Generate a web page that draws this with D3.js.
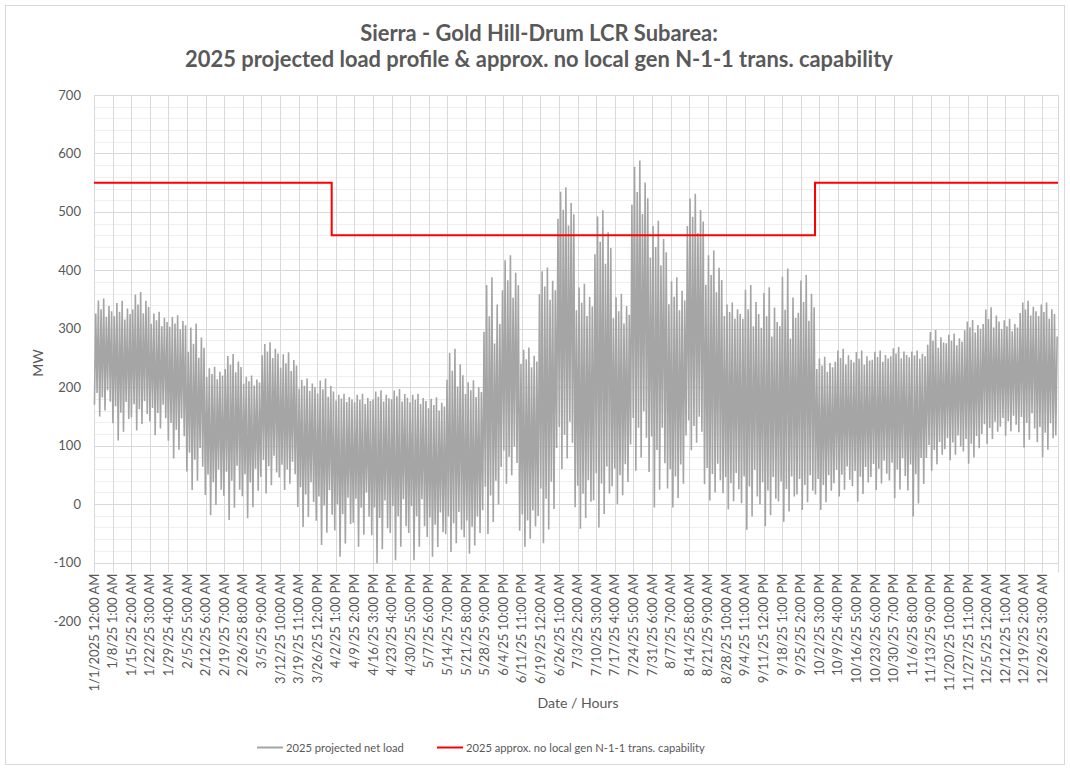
<!DOCTYPE html>
<html lang="en">
<head>
<meta charset="UTF-8">
<title>Sierra - Gold Hill-Drum LCR Subarea</title>
<script src="https://d3js.org/d3.v7.min.js"></script>
<style>
  body { margin: 0; background: #fff; }
  svg { display: block; font-family: Lato, "Open Sans", sans-serif; }
</style>
</head>
<body>
<svg width="1070" height="770"></svg>
<script>
// category labels, one every 169 hourly points
const tickLabels = [
  "1/1/2025 12:00 AM", "1/8/25 1:00 AM", "1/15/25 2:00 AM", "1/22/25 3:00 AM", "1/29/25 4:00 AM",
  "2/5/25 5:00 AM", "2/12/25 6:00 AM", "2/19/25 7:00 AM", "2/26/25 8:00 AM", "3/5/25 9:00 AM",
  "3/12/25 10:00 AM", "3/19/25 11:00 AM", "3/26/25 12:00 PM", "4/2/25 1:00 PM", "4/9/25 2:00 PM",
  "4/16/25 3:00 PM", "4/23/25 4:00 PM", "4/30/25 5:00 PM", "5/7/25 6:00 PM", "5/14/25 7:00 PM",
  "5/21/25 8:00 PM", "5/28/25 9:00 PM", "6/4/25 10:00 PM", "6/11/25 11:00 PM", "6/19/25 12:00 AM",
  "6/26/25 1:00 AM", "7/3/25 2:00 AM", "7/10/25 3:00 AM", "7/17/25 4:00 AM", "7/24/25 5:00 AM",
  "7/31/25 6:00 AM", "8/7/25 7:00 AM", "8/14/25 8:00 AM", "8/21/25 9:00 AM", "8/28/25 10:00 AM",
  "9/4/25 11:00 AM", "9/11/25 12:00 PM", "9/18/25 1:00 PM", "9/25/25 2:00 PM", "10/2/25 3:00 PM",
  "10/9/25 4:00 PM", "10/16/25 5:00 PM", "10/23/25 6:00 PM", "10/30/25 7:00 PM", "11/6/25 8:00 PM",
  "11/13/25 9:00 PM", "11/20/25 10:00 PM", "11/27/25 11:00 PM", "12/5/25 12:00 AM", "12/12/25 1:00 AM",
  "12/19/25 2:00 AM", "12/26/25 3:00 AM"
];
const tickStep = 169;
const totalHours = 8760;

// net load, read per week off the picture (MW)
// peak / trough = extreme spikes of the week, top / bottom = edges of the dense band
const weekPeak = [352, 348, 363, 329, 323, 309, 235, 257, 220, 277, 260, 215, 215, 189, 189, 195, 197, 189,
  183, 266, 212, 388, 426, 268, 405, 542, 377, 503, 360, 588, 485, 388, 531, 434, 345, 375, 371, 403,
  392, 252, 266, 263, 263, 269, 263, 298, 292, 315, 337, 317, 348, 345, 303];
const weekTop = [315, 310, 320, 300, 295, 240, 210, 220, 200, 245, 222, 190, 178, 172, 168, 172, 172, 168,
  156, 190, 178, 255, 340, 228, 340, 465, 312, 395, 300, 480, 395, 322, 452, 350, 312, 292, 272, 262,
  300, 222, 234, 234, 240, 246, 246, 262, 268, 290, 296, 292, 318, 312, 280];
const weekBottom = [200, 182, 182, 176, 154, 104, 68, 76, 70, 90, 78, 46, 34, 22, 30, 18, 20, 20,
  -6, -6, -14, 50, 106, -4, 50, 150, 50, 76, 76, 170, 146, 76, 156, 76, 60, 70, 56, 56,
  56, 56, 70, 70, 80, 86, 90, 112, 122, 122, 145, 155, 162, 145, 155];
const weekTrough = [150, 109, 126, 118, 78, 24, -19, -27, -24, 18, 24, -39, -70, -90, -73, -101, -96, -96,
  -90, -82, -85, -51, 35, -73, -67, 60, -42, -40, 0, 57, -6, -6, 92, 6, -9, -44, -38, -30,
  -10, -10, 13, 4, 24, 10, -21, 57, 75, 69, 103, 117, 97, 80, 92];
// how far each weekday reaches toward the week's spikes
const peakShape = [0.3, 0.9, 0.5, 1.0, 0.15, 0.65, 0.4];
const troughShape = [0.6, 0.2, 1.0, 0.35, 0.8, 0.1, 0.5];

// transmission capability (step)
const capHours = [0, 2160, 6552, 8760];
const capValues = [550, 460, 550, 550];

const svg = d3.select("svg");
const plot = {left: 94, right: 1058, top: 95, bottom: 621};

const x = d3.scaleLinear().domain([0, totalHours]).range([plot.left, plot.right]);
const y = d3.scaleLinear().domain([-200, 700]).range([plot.bottom, plot.top]);

function fitSize(sel, target) {
  const len = sel.node().getComputedTextLength();
  const fs = parseFloat(sel.attr("font-size"));
  const size = fs * target / len;
  sel.attr("font-size", size.toFixed(2));
  return size;
}

// outer border
svg.append("rect")
  .attr("x", 5.5).attr("y", 5.5).attr("width", 1059).attr("height", 759)
  .attr("fill", "none").attr("stroke", "#d9d9d9");

// gridlines
const grid = svg.append("g");
grid.selectAll(".minor")
  .data(d3.range(-100, 701, 20).filter(v => v % 100 !== 0))
  .enter().append("line")
  .attr("x1", plot.left).attr("x2", plot.right)
  .attr("y1", d => Math.round(y(d)) + 0.5).attr("y2", d => Math.round(y(d)) + 0.5)
  .attr("stroke", "#efefef");
grid.selectAll(".major")
  .data(y.ticks(9).filter(v => v >= -100))
  .enter().append("line")
  .attr("x1", plot.left).attr("x2", plot.right)
  .attr("y1", d => Math.round(y(d)) + 0.5).attr("y2", d => Math.round(y(d)) + 0.5)
  .attr("stroke", "#d9d9d9");
const tickHours = tickLabels.map((t, i) => i * tickStep).concat([totalHours]);
grid.selectAll(".vert")
  .data(tickHours)
  .enter().append("line")
  .attr("x1", d => Math.round(x(d)) + 0.5).attr("x2", d => Math.round(x(d)) + 0.5)
  .attr("y1", plot.top).attr("y2", y(-100) + 10)
  .attr("stroke", "#d9d9d9");

// load series
const load = [];
for (let d = 0; d < 365; d++) {
  const w = Math.floor(d / 7), k = d % 7;
  const lo = weekBottom[w] - (weekBottom[w] - weekTrough[w]) * troughShape[k];
  const hi = weekTop[w] + (weekPeak[w] - weekTop[w]) * peakShape[k];
  load.push({h: d * 24 + 4, v: lo}, {h: d * 24 + 16, v: hi});
}
svg.append("path")
  .datum(load)
  .attr("fill", "none")
  .attr("stroke", "#a5a5a5")
  .attr("stroke-width", 1.6)
  .attr("d", d3.line().x(d => x(d.h)).y(d => y(d.v)));

// capability line
const cap = capHours.map((h, i) => ({h: h, v: capValues[i]}));
svg.append("path")
  .datum(cap)
  .attr("fill", "none")
  .attr("stroke", "#ff0000")
  .attr("stroke-width", 2)
  .attr("d", d3.line().curve(d3.curveStepAfter).x(d => x(d.h)).y(d => y(d.v)));

// y tick labels
const yLab = svg.append("g")
  .attr("fill", "#595959")
  .attr("text-anchor", "end");
yLab.selectAll("text")
  .data(y.ticks(9))
  .enter().append("text")
  .attr("x", 81)
  .attr("y", d => y(d))
  .attr("dy", "0.35em")
  .attr("font-size", 13)
  .text(d => d);

// x tick labels
const xLab = svg.append("g").attr("fill", "#595959");
const xt = xLab.selectAll("text")
  .data(tickLabels)
  .enter().append("text")
  .attr("transform", (d, i) => `translate(${x(i * tickStep)},${y(-100) + 11}) rotate(-90)`)
  .attr("text-anchor", "end")
  .attr("dy", "0.35em")
  .attr("font-size", 12)
  .text(d => d);
const tickSize = fitSize(d3.select(xt.nodes()[0]), 118);
xt.attr("font-size", tickSize.toFixed(2));
yLab.selectAll("text").attr("font-size", tickSize.toFixed(2));

// title
const t2 = svg.append("text")
  .attr("x", 539).attr("y", 67)
  .attr("text-anchor", "middle")
  .attr("font-weight", "bold")
  .attr("font-size", 19)
  .attr("fill", "#595959")
  .text("2025 projected load profile & approx. no local gen N-1-1 trans. capability");
const titleSize = fitSize(t2, 708);
svg.append("text")
  .attr("x", 539).attr("y", 41)
  .attr("text-anchor", "middle")
  .attr("font-weight", "bold")
  .attr("font-size", titleSize.toFixed(2))
  .attr("fill", "#595959")
  .text("Sierra - Gold Hill-Drum LCR Subarea:");

// axis titles
svg.append("text")
  .attr("x", 578).attr("y", 708)
  .attr("text-anchor", "middle")
  .attr("font-size", (tickSize * 1.08).toFixed(2))
  .attr("fill", "#595959")
  .text("Date / Hours");
svg.append("text")
  .attr("transform", "translate(43,363) rotate(-90)")
  .attr("text-anchor", "middle")
  .attr("font-size", (tickSize * 1.08).toFixed(2))
  .attr("fill", "#595959")
  .text("MW");

// legend
const legend = [
  {name: "2025 projected net load", color: "#a5a5a5", x: 257},
  {name: "2025 approx. no local gen N-1-1 trans. capability", color: "#ff0000", x: 437}
];
const lg = svg.append("g");
let legendSize = null;
legend.forEach(l => {
  lg.append("line")
    .attr("x1", l.x).attr("x2", l.x + 26)
    .attr("y1", 747.5).attr("y2", 747.5)
    .attr("stroke", l.color).attr("stroke-width", 2);
  const t = lg.append("text")
    .attr("x", l.x + 29).attr("y", 752)
    .attr("font-size", 13)
    .attr("fill", "#595959")
    .text(l.name);
  if (legendSize === null) legendSize = fitSize(t, 118);
  else t.attr("font-size", legendSize.toFixed(2));
});
</script>
</body>
</html>
